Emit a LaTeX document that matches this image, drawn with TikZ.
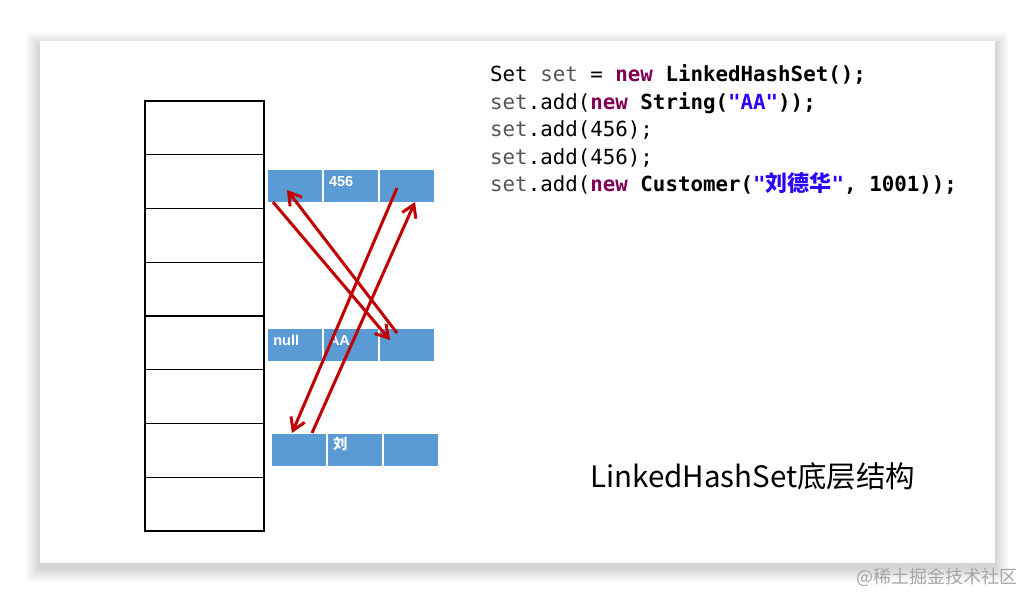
\documentclass[tikz,border=0pt]{standalone}
\usepackage{fontspec}
\setmainfont{Liberation Sans}
\newfontfamily\codefont{DejaVu Sans Mono}
\newfontfamily\cjkfont{Noto Sans CJK SC}
\usetikzlibrary{arrows.meta,positioning,calc}
\definecolor{cellblue}{HTML}{5B9BD5}
\definecolor{linkred}{HTML}{C00000}
\definecolor{kwpurple}{HTML}{7F0055}
\definecolor{strblue}{HTML}{2A00FF}
\definecolor{vargrey}{HTML}{555555}
\definecolor{markgrey}{HTML}{A6A6A6}
\newcommand{\kw}[1]{\textcolor{kwpurple}{\bfseries #1}}
\newcommand{\str}[1]{\textcolor{strblue}{\bfseries #1}}
\newcommand{\var}[1]{\textcolor{vargrey}{#1}}

\begin{document}
\begin{tikzpicture}[x=1pt, y=-1pt,
      bucket/.style={draw=black, line width=1.3pt, minimum width=119pt, minimum height=53.75pt, inner sep=0pt},
      cell/.style={draw=white, fill=cellblue, line width=1pt, minimum width=54.7pt, minimum height=33pt, inner sep=0pt, text width=44pt, text height=9pt, text depth=9pt, align=left, text=white, font=\bfseries\fontsize{14.5}{16}\selectfont},
      codeline/.style={anchor=base west, inner sep=0pt, font=\codefont\fontsize{20.8}{24}\selectfont},
      link/.style={-{Straight Barb[length=12pt,width=15pt]}, line width=3pt, color=linkred}]
    \useasboundingbox (0,0) rectangle (1036,604);
    % slide card with soft shadow
    \fill[white] (0,0) rectangle (1036,604);
    \foreach \s in {1,...,14}
      \fill[black, opacity=0.01] (40-\s,41-\s+5) rectangle (995+\s,563+\s+5);
    \fill[white] (40,41) rectangle (995,563);
    % hash table
    \foreach \i in {1,...,8}
      \node[bucket] (b\i) at (204.5, {101+53.75*(\i-0.5)}) {};
    % linked nodes
    \node[cell] (t1) at (295.3,186.5) {};
    \node[cell, right=0pt of t1] (t2) {456};
    \node[cell, right=0pt of t2] (t3) {};
    \node[cell] (m1) at (295.3,345) {null};
    \node[cell, right=0pt of m1] (m2) {AA};
    \node[cell, right=0pt of m2] (m3) {};
    \node[cell] (u1) at (299.3,449.5) {};
    \node[cell, right=0pt of u1] (u2) {\cjkfont\bfseries 刘};
    \node[cell, right=0pt of u2] (u3) {};
    % before/after links
    \coordinate (a1) at (273,202);
    \coordinate (a2) at (390,340);
    \coordinate (b1) at (397,333);
    \coordinate (b2) at (287,190);
    \coordinate (c1) at (397,188);
    \coordinate (c2) at (292,433);
    \coordinate (d1) at (312,433);
    \coordinate (d2) at (415,202);
    \draw[link] (a1) -- (a2);
    \draw[link] (b1) -- (b2);
    \draw[link] (c1) -- (c2);
    \draw[link] (d1) -- (d2);
    % code
    \node[codeline] (l1) at (490,82) {Set \var{set} = \kw{new} \textbf{LinkedHashSet();}};
    \node[codeline] (l2) at (490,109.5) {\var{set}.add(\kw{new} \textbf{String(\str{"AA"}));}};
    \node[codeline] (l3) at (490,137) {\var{set}.add(456);};
    \node[codeline] (l4) at (490,164.5) {\var{set}.add(456);};
    \node[codeline] (l5) at (490,192) {\var{set}.add(\kw{new} \textbf{Customer(\str{"{\cjkfont\bfseries\fontsize{22}{24}\selectfont 刘德华}"}, 1001));}};
    % caption and mark
    \node[anchor=base west, inner sep=0pt, font=\cjkfont\fontsize{29.5}{34}\selectfont] (title) at (590,487) {LinkedHashSet底层结构};
    \node[anchor=base east, inner sep=0pt, text=markgrey, font=\cjkfont\fontsize{18}{20}\selectfont] (mark) at (1018,583) {@稀土掘金技术社区};
  \end{tikzpicture}
\end{document}
